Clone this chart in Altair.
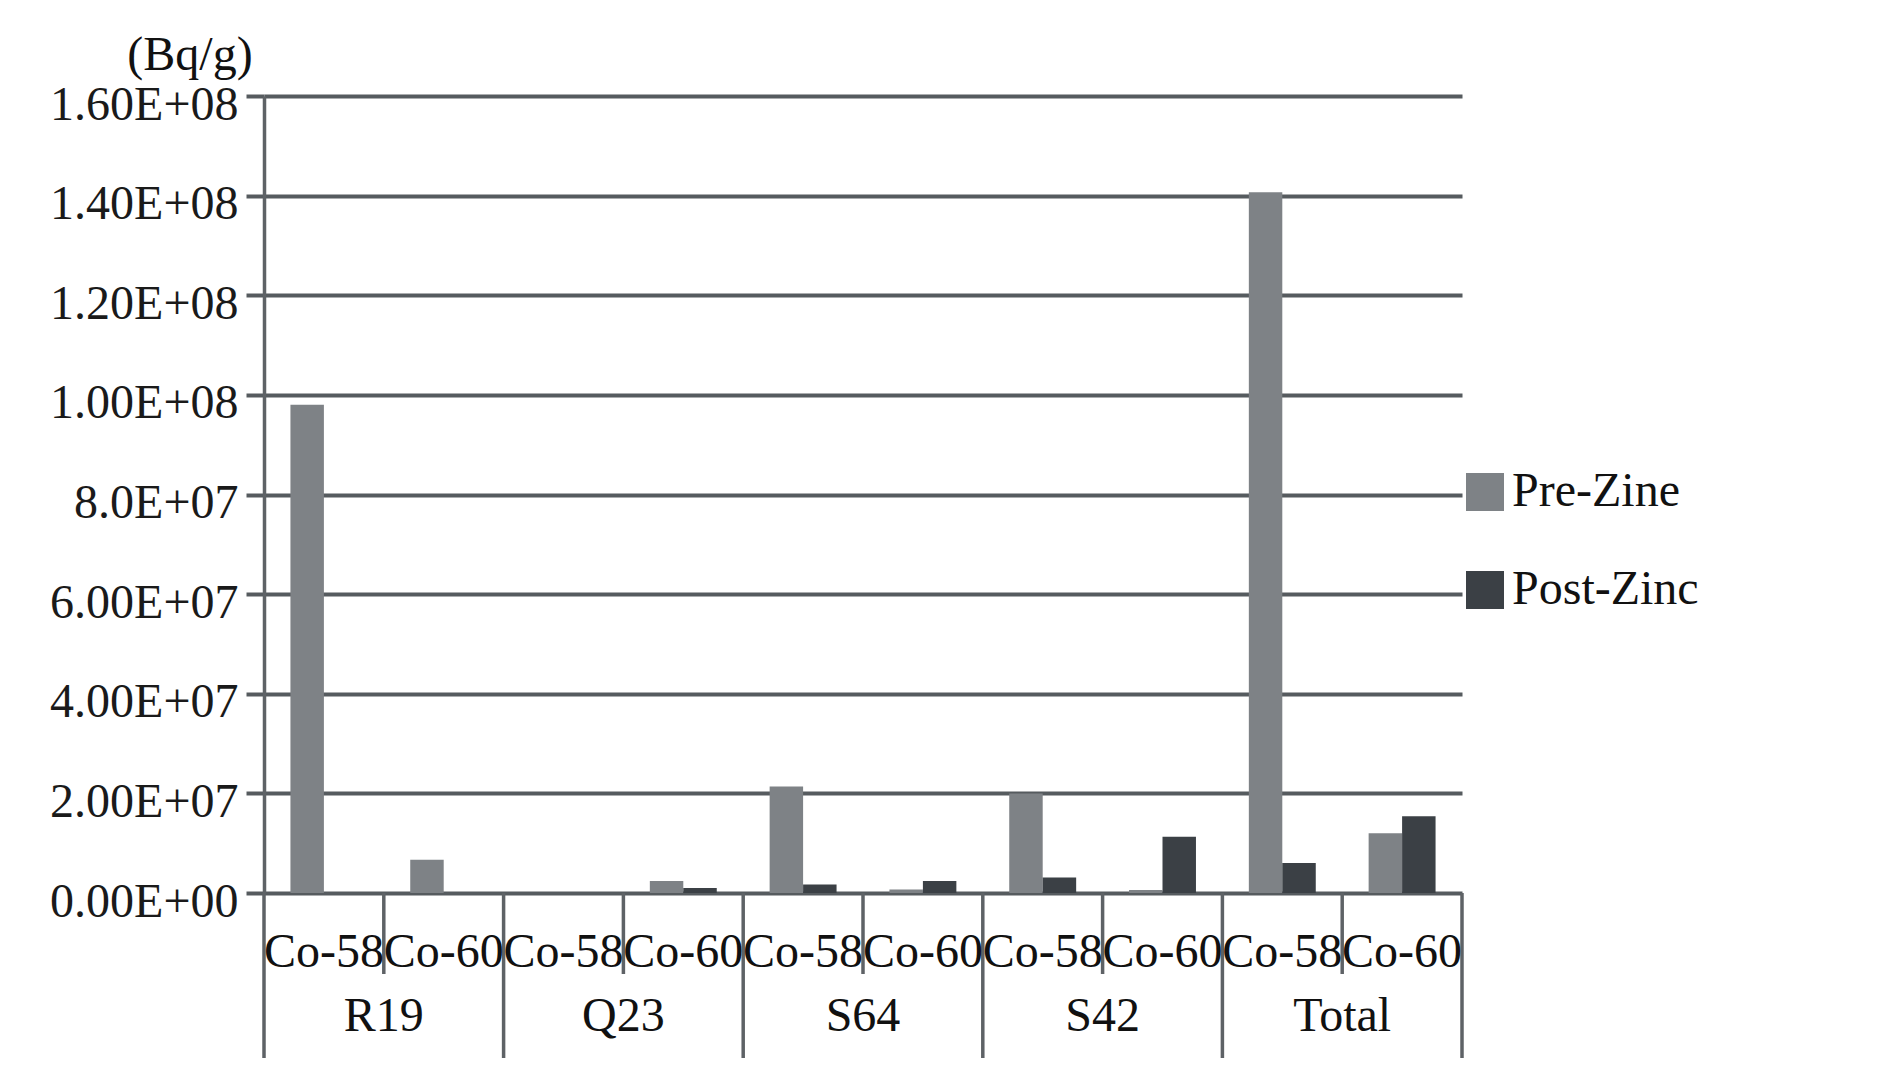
import altair as alt
import pandas as pd

groups = ["R19", "Q23", "S64", "S42", "Total"]
isotopes = ["Co-58", "Co-60"]
series = ["Pre-Zine", "Post-Zinc"]
# values in Bq/g, order: R19 Co-58, R19 Co-60, Q23 Co-58, ... Total Co-60
pre_zinc = [9.8e7, 6.7e6, 0.0, 2.4e6, 2.14e7, 7.0e5, 2.0e7, 6.0e5, 1.407e8, 1.2e7]
post_zinc = [0.0, 0.0, 0.0, 1.0e6, 1.7e6, 2.4e6, 3.1e6, 1.13e7, 6.0e6, 1.54e7]
y_tick_values = [0, 2e7, 4e7, 6e7, 8e7, 1e8, 1.2e8, 1.4e8, 1.6e8]
y_tick_labels = ["0.00E+00", "2.00E+07", "4.00E+07", "6.00E+07", "8.0E+07",
                 "1.00E+08", "1.20E+08", "1.40E+08", "1.60E+08"]
unit_label = "(Bq/g)"

colors = ["#7e8286", "#3b4045"]
line_color = "#5e6266"
FONT = "Liberation Serif"
FS = 48
W, H = 1198, 797

slots = [f"{g} {i}" for g in groups for i in isotopes]
rows = []
for k, s in enumerate(slots):
    rows.append({"slot": s, "series": series[0], "value": pre_zinc[k]})
    rows.append({"slot": s, "series": series[1], "value": post_zinc[k]})
bars_df = pd.DataFrame(rows)
slot_df = pd.DataFrame({"slot": slots,
                        "iso": [i for g in groups for i in isotopes],
                        "group": [g for g in groups for i in isotopes]})
co58_df = slot_df[slot_df["iso"] == "Co-58"]
co60_df = slot_df[slot_df["iso"] == "Co-60"]
last_df = slot_df.tail(1)

xscale = alt.Scale(domain=slots, paddingInner=0, paddingOuter=0)

def X(**kw):
    return alt.X("slot:N", scale=xscale, axis=None, **kw)

label_expr = "[" + ",".join(f"'{t}'" for t in y_tick_labels) + "][round(datum.value/20000000)]"

bars = alt.Chart(bars_df).mark_bar().encode(
    x=X(),
    xOffset=alt.XOffset("series:N", sort=series,
                        scale=alt.Scale(domain=series, paddingOuter=0.79, paddingInner=0)),
    y=alt.Y("value:Q", scale=alt.Scale(domain=[0, 1.6e8], nice=False),
            axis=alt.Axis(values=y_tick_values, labelExpr=label_expr, title=None,
                          grid=True, gridColor="#565b5f", gridWidth=4, gridOpacity=1,
                          domain=True, domainColor=line_color, domainWidth=3.5,
                          ticks=True, tickSize=18, tickColor="#565b5f", tickWidth=4,
                          labelFont=FONT, labelFontSize=FS, labelColor="#1a1a1a",
                          labelPadding=8, labelOffset=9, labelLimit=0)),
    color=alt.Color("series:N", sort=series,
                    scale=alt.Scale(domain=series, range=colors),
                    legend=alt.Legend(title=None, orient="none", legendX=W - 1, legendY=372,
                                      symbolType="square", symbolSize=1444,
                                      symbolStrokeWidth=0, labelFont=FONT,
                                      labelFontSize=FS, labelColor="#111111",
                                      rowPadding=50, labelOffset=3, labelLimit=0)),
)

group_lines = alt.Chart(co58_df).mark_rule(color=line_color, strokeWidth=3.5).encode(
    x=X(bandPosition=0), y=alt.value(H), y2=alt.value(H + 165))
last_line = alt.Chart(last_df).mark_rule(color=line_color, strokeWidth=3.5).encode(
    x=X(bandPosition=1), y=alt.value(H), y2=alt.value(H + 165))
inner_lines = alt.Chart(co60_df).mark_rule(color=line_color, strokeWidth=3.5).encode(
    x=X(bandPosition=0), y=alt.value(H), y2=alt.value(H + 81))

iso_text = alt.Chart(slot_df).mark_text(font=FONT, fontSize=FS, color="#111111",
                                        baseline="middle").encode(
    x=X(), y=alt.value(H + 60), text="iso:N")
group_text = alt.Chart(co60_df).mark_text(font=FONT, fontSize=FS, color="#111111",
                                          baseline="middle").encode(
    x=X(bandPosition=0), y=alt.value(H + 124), text="group:N")

unit = alt.Chart(pd.DataFrame({"t": [unit_label]})).mark_text(
    font=FONT, fontSize=FS, color="#111111", baseline="middle", align="center").encode(
    x=alt.value(-74), y=alt.value(-40), text="t:N")

chart = alt.layer(bars, group_lines, last_line, inner_lines, iso_text, group_text, unit).properties(
    width=W, height=H,
    autosize=alt.AutoSizeParams(type="none"),
    padding={"left": 256, "top": 88, "right": 400, "bottom": 170},
).configure(font=FONT, view=alt.ViewConfig(stroke=None))

chart.save("out.html", embed_options={"renderer": "svg", "actions": False})
